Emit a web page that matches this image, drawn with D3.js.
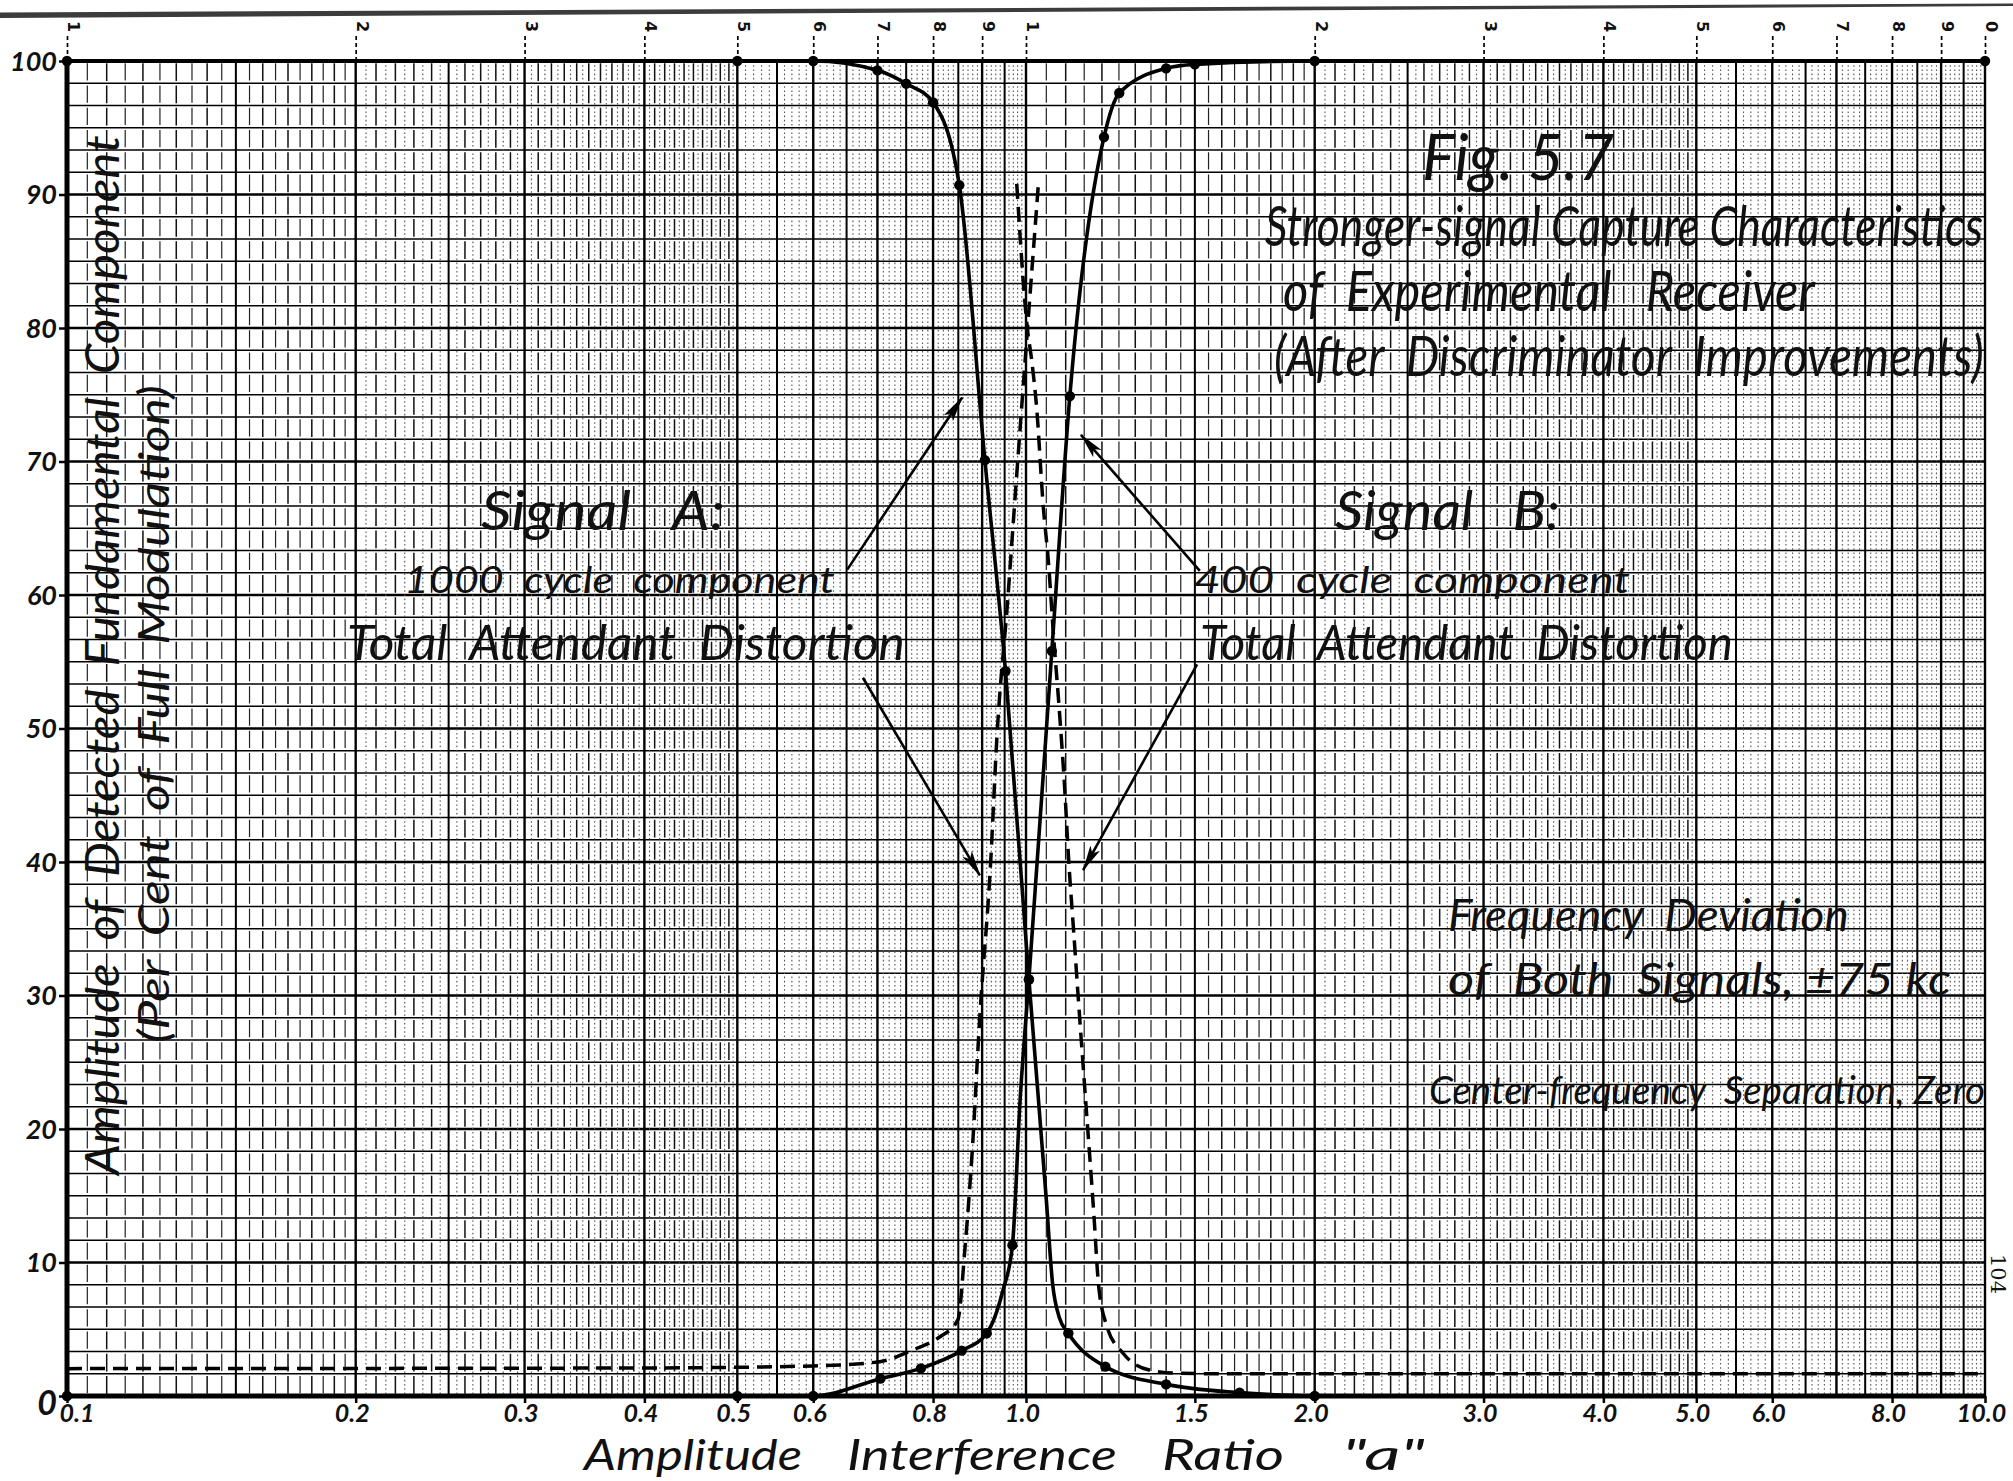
<!DOCTYPE html>
<html>
<head>
<meta charset="utf-8">
<script src="https://cdn.jsdelivr.net/npm/d3@7"></script>
<style>
  html, body { margin: 0; padding: 0; background: #fff; }
  svg { display: block; }
  text { fill: #111; }
</style>
</head>
<body>
<svg id="chart" width="2013" height="1481"></svg>
<script>
// Amplitude interference ratio "a" and percentage readings.
// Signal A, 1000 cycle fundamental (falls as a rises).
const ratioA = [0.1, 0.5, 0.6, 0.7, 0.75, 0.8, 0.852, 0.906, 0.952, 1.007, 1.05, 1.066, 1.083, 1.107, 1.21, 1.40, 1.67, 2.0];
const fundamentalA = [100, 100, 100, 99.3, 98.3, 96.9, 90.7, 70.1, 54.3, 31.2, 14.7, 8.4, 5.9, 4.7, 2.2, 0.87, 0.25, 0];
const measuredA = [1, 1, 1, 1, 1, 1, 1, 1, 1, 1, 0, 0, 0, 1, 1, 1, 1, 1];

// Signal B, 400 cycle fundamental (rises as a rises).
const ratioB = [0.1, 0.5, 0.6, 0.705, 0.777, 0.857, 0.91, 0.946, 0.968, 0.986, 1.007, 1.064, 1.111, 1.206, 1.251, 1.40, 1.50, 2.0, 10.0];
const fundamentalB = [0, 0, 0, 1.3, 2.07, 3.4, 4.7, 7.9, 11.3, 22.2, 31.2, 55.8, 74.9, 94.3, 97.6, 99.45, 99.75, 100, 100];
const measuredB = [1, 1, 1, 1, 1, 1, 1, 0, 1, 0, 1, 1, 1, 1, 1, 1, 1, 1, 1];

// Total attendant distortion of each signal.
const ratioDistA = [0.1, 0.4, 0.6, 0.704, 0.762, 0.812, 0.849, 0.864, 0.879, 0.895, 0.918, 0.933, 0.957, 0.9725, 1.0035, 1.03];
const distortionA = [2.05, 2.1, 2.25, 2.57, 3.45, 4.4, 5.7, 11.2, 18.4, 28.4, 39.6, 49.6, 59.6, 66.6, 79.9, 90.7];
const ratioDistB = [0.978, 1.0035, 1.0137, 1.0257, 1.0424, 1.055, 1.068, 1.084, 1.0965, 1.109, 1.1215, 1.134, 1.156, 1.1775, 1.19, 1.2145, 1.2625, 1.3445, 1.4425, 1.6, 3.0, 10.0];
const distortionB = [90.8, 79.9, 77.6, 74.1, 66.6, 62.6, 57.1, 51.1, 45.9, 39.65, 34.7, 29.7, 21.4, 13.4, 8.4, 5.2, 3.2, 1.95, 1.7, 1.67, 1.67, 1.67];

// Axis ticks.
const xTickValues = [0.1, 0.2, 0.3, 0.4, 0.5, 0.6, 0.8, 1.0, 1.5, 2.0, 3.0, 4.0, 5.0, 6.0, 8.0, 10.0];
const xTickLabels = ["0.1", "0.2", "0.3", "0.4", "0.5", "0.6", "0.8", "1.0", "1.5", "2.0", "3.0", "4.0", "5.0", "6.0", "8.0", "10.0"];
const yTickValues = [0, 10, 20, 30, 40, 50, 60, 70, 80, 90, 100];
const yTickLabels = ["0", "10", "20", "30", "40", "50", "60", "70", "80", "90", "100"];
// Printed cycle numbers of the log paper along the top edge.
const paperValues = [0.1, 0.2, 0.3, 0.4, 0.5, 0.6, 0.7, 0.8, 0.9, 1, 2, 3, 4, 5, 6, 7, 8, 9, 10];
const paperLabels = ["1", "2", "3", "4", "5", "6", "7", "8", "9", "1", "2", "3", "4", "5", "6", "7", "8", "9", "0"];

// Arrow annotations: [from ratio, from %, to ratio, to %].
const arrowFund = [[0.651, 61.9, 0.858, 74.8], [1.518, 61.8, 1.141, 72.0]];
const arrowDist = [[0.676, 53.8, 0.895, 39.0], [1.508, 54.8, 1.147, 39.4]];

const W = 2013, H = 1481;
const svg = d3.select("#chart");
const HAND = "Lato, 'DejaVu Sans', sans-serif";

const x = d3.scaleLog().domain([0.1, 10]).range([67, 1985]);
const y = d3.scaleLinear().domain([0, 100]).range([1396, 61]);
const [plotLeft, plotRight] = x.range();
const [plotBottom, plotTop] = y.range();

svg.append("rect").attr("width", W).attr("height", H).attr("fill", "#fff");

// Edge of the sheet across the top of the page.
svg.append("path")
  .attr("d", `M0,12.5 L${W},3.5 L${W},6 L0,18 Z`)
  .attr("fill", "#3c3c3c");

// ---- log-linear paper ----
const grid = svg.append("g");

// horizontal rules every 1/6 of a 10% band
const hRules = d3.range(0, 61).map(k => k * 10 / 6);
grid.selectAll("line.h").data(hRules).join("line")
  .attr("x1", plotLeft).attr("x2", plotRight)
  .attr("y1", d => y(d)).attr("y2", d => y(d))
  .attr("stroke", "#000")
  .attr("stroke-width", (d, i) => i % 6 === 0 ? 2.7 : 1.7);

// vertical rules of the two log cycles
const vRules = [];
[0.1, 1].forEach((dec, di) => {
  const last = di === 0 ? 199 : 200;
  for (let m = 20; m <= last; m++) {
    let cls = null;
    if (m % 20 === 0) cls = "heavy";
    else if (m < 100) {
      if (m % 2 === 1) cls = m < 40 ? "thin" : "dot";
      else cls = (m === 30 || m === 50) ? "medium" : "light";
    } else if (m % 2 === 0) {
      cls = m % 10 === 0 ? "medium" : "dot";
    }
    if (cls) vRules.push({ v: +(m / 20 * dec).toPrecision(8), cls });
  }
});
const bandStep = Math.abs(y(10 / 6) - y(0));
const ruleStyle = {
  heavy:  { w: 2.4, c: "#000", dash: null },
  medium: { w: 2.0, c: "#000", dash: null },
  light:  { w: 1.5, c: "#111", dash: `${bandStep - 4.5} 4.5` },
  thin:   { w: 1.2, c: "#222", dash: `${bandStep - 5} 5` },
  dot:    { w: 1.1, c: "#555", dash: "1.6 2.6" }
};
grid.selectAll("line.v").data(vRules).join("line")
  .attr("x1", d => x(d.v)).attr("x2", d => x(d.v))
  .attr("y1", plotTop).attr("y2", plotBottom)
  .attr("stroke", d => ruleStyle[d.cls].c)
  .attr("stroke-width", d => ruleStyle[d.cls].w)
  .attr("stroke-dasharray", d => ruleStyle[d.cls].dash)
  .attr("stroke-dashoffset", d => d.cls === "dot" ? 0 : bandStep - 2.25);

// frame
const frame = svg.append("g").attr("stroke", "#000");
frame.append("line").attr("x1", plotLeft).attr("x2", plotLeft).attr("y1", plotTop - 2).attr("y2", plotBottom + 2).attr("stroke-width", 5);
frame.append("line").attr("x1", plotLeft).attr("x2", plotRight).attr("y1", plotBottom).attr("y2", plotBottom).attr("stroke-width", 5);
frame.append("line").attr("x1", plotLeft).attr("x2", plotRight).attr("y1", plotTop).attr("y2", plotTop).attr("stroke-width", 4);

// ---- axes ----
const xAxis = svg.append("g").attr("transform", `translate(0,${plotBottom})`)
  .call(d3.axisBottom(x).tickValues(xTickValues).tickFormat((d, i) => xTickLabels[i]).tickSize(7).tickPadding(1));
xAxis.select(".domain").remove();
xAxis.selectAll(".tick line").attr("stroke", "#000").attr("stroke-width", 2.5);
xAxis.selectAll(".tick text")
  .attr("font-family", HAND).attr("font-style", "italic").attr("font-weight", 700)
  .attr("font-size", 25).attr("fill", "#111")
  .attr("dx", (d, i) => i === 0 ? -8 : -4)
  .attr("text-anchor", (d, i) => i === 0 ? "start" : "middle");

const yAxis = svg.append("g").attr("transform", `translate(${plotLeft},0)`)
  .call(d3.axisLeft(y).tickValues(yTickValues).tickFormat((d, i) => yTickLabels[i]).tickSize(8).tickPadding(2));
yAxis.select(".domain").remove();
yAxis.selectAll(".tick line").attr("stroke", "#000").attr("stroke-width", 2.5);
yAxis.selectAll(".tick text")
  .attr("font-family", HAND).attr("font-style", "italic").attr("font-weight", 700)
  .attr("fill", "#111")
  .attr("font-size", d => d === 0 ? 34 : 27)
  .attr("dy", d => d === 0 ? "0.55em" : "0.35em");

const paperAxis = svg.append("g").attr("transform", `translate(0,${plotTop})`)
  .call(d3.axisTop(x).tickValues(paperValues).tickFormat("").tickSize(27));
paperAxis.select(".domain").remove();
paperAxis.selectAll(".tick line").attr("stroke", "#000").attr("stroke-width", 1.7).attr("stroke-dasharray", "4 3");
svg.append("g").selectAll("text").data(paperValues).join("text")
  .attr("transform", d => `translate(${x(d) + 1},${plotTop - 40}) rotate(90)`)
  .attr("font-family", "'DejaVu Sans', sans-serif").attr("font-weight", 700)
  .attr("font-size", 16)
  .text((d, i) => paperLabels[i]);

// ---- curves ----
const line = d3.line().x(d => x(d[0])).y(d => y(d[1])).curve(d3.curveMonotoneX);
const curves = svg.append("g").attr("fill", "none").attr("stroke", "#000").attr("stroke-linecap", "round");
const zipPts = (xs, ys) => xs.map((v, i) => [v, ys[i]]);

curves.append("path").attr("d", line(zipPts(ratioDistA, distortionA)))
  .attr("stroke-width", 3.5).attr("stroke-dasharray", "15 8").attr("stroke-linecap", "butt");
curves.append("path").attr("d", line(zipPts(ratioDistB, distortionB)))
  .attr("stroke-width", 3.5).attr("stroke-dasharray", "15 8").attr("stroke-linecap", "butt");
curves.append("path").attr("d", line(zipPts(ratioA, fundamentalA))).attr("stroke-width", 3.6);
curves.append("path").attr("d", line(zipPts(ratioB, fundamentalB))).attr("stroke-width", 3.6);

const dots = svg.append("g").attr("fill", "#000");
dots.selectAll("circle.a").data(zipPts(ratioA, fundamentalA).filter((d, i) => measuredA[i])).join("circle")
  .attr("class", "a").attr("cx", d => x(d[0])).attr("cy", d => y(d[1])).attr("r", 5.2);
dots.selectAll("circle.b").data(zipPts(ratioB, fundamentalB).filter((d, i) => measuredB[i])).join("circle")
  .attr("class", "b").attr("cx", d => x(d[0])).attr("cy", d => y(d[1])).attr("r", 5.2);

// ---- arrows ----
const defs = svg.append("defs");
defs.append("marker").attr("id", "head")
  .attr("markerUnits", "userSpaceOnUse")
  .attr("markerWidth", 26).attr("markerHeight", 14)
  .attr("refX", 25).attr("refY", 7).attr("orient", "auto")
  .append("path").attr("d", "M0,1.5 L26,7 L0,12.5 L6,7 Z").attr("fill", "#000");
svg.append("g").selectAll("line").data(arrowFund.concat(arrowDist)).join("line")
  .attr("x1", d => x(d[0])).attr("y1", d => y(d[1]))
  .attr("x2", d => x(d[2])).attr("y2", d => y(d[3]))
  .attr("stroke", "#000").attr("stroke-width", 2.6)
  .attr("marker-end", "url(#head)");

// ---- lettering ----
// Each label is squeezed horizontally to its lettered width.
function fitWidth(sel, rotate) {
  sel.each(function (d) {
    const natural = this.getComputedTextLength();
    const sx = natural > 0 ? d.w / natural : 1;
    d3.select(this).attr("transform",
      `translate(${d.x},${d.y})${rotate ? ` rotate(${rotate})` : ""} scale(${sx.toFixed(4)},1)`);
  });
}

const notes = [
  { t: "Fig. 5.7", x: 1422, y: 180, w: 192, fs: 64 },
  { t: "Stronger-signal Capture Characteristics", x: 1265, y: 246, w: 718, fs: 56 },
  { t: "of  Experimental   Receiver", x: 1283, y: 311, w: 532, fs: 56 },
  { t: "(After  Discriminator  Improvements)", x: 1274, y: 376, w: 710, fs: 56 },
  { t: "Signal   A:", x: 481, y: 530, w: 244, fs: 54 },
  { t: "1000  cycle  component", x: 404, y: 593, w: 431, fs: 37 },
  { t: "Total  Attendant  Distortion", x: 347, y: 660, w: 558, fs: 49 },
  { t: "Signal   B:", x: 1335, y: 530, w: 225, fs: 54 },
  { t: "400  cycle  component", x: 1194, y: 593, w: 436, fs: 37 },
  { t: "Total  Attendant  Distortion", x: 1200, y: 660, w: 533, fs: 49 },
  { t: "Frequency  Deviation", x: 1448, y: 931, w: 401, fs: 44 },
  { t: "of  Both  Signals, ±75 kc", x: 1448, y: 995, w: 503, fs: 44 },
  { t: "Center-frequency  Separation, Zero", x: 1429, y: 1104, w: 556, fs: 38 }
];
svg.append("g").selectAll("text").data(notes).join("text")
  .attr("font-family", HAND).attr("font-style", "italic").attr("font-weight", 400)
  .attr("font-size", d => d.fs)
  .style("white-space", "pre")
  .text(d => d.t)
  .call(fitWidth);

// axis titles
const yTitles = [
  { t: "Amplitude  of  Detected  Fundamental  Component", x: 119, y: 1175, w: 1040, fs: 46 },
  { t: "(Per  Cent  of  Full  Modulation)", x: 169, y: 1043, w: 658, fs: 42 }
];
svg.append("g").selectAll("text").data(yTitles).join("text")
  .attr("font-family", HAND).attr("font-style", "italic").attr("font-weight", 400)
  .attr("font-size", d => d.fs)
  .style("white-space", "pre")
  .text(d => d.t)
  .call(fitWidth, -90);

const xTitle = [
  { t: "Amplitude", x: 584, y: 1470, w: 218 },
  { t: "Interference", x: 847, y: 1470, w: 270 },
  { t: "Ratio", x: 1162, y: 1470, w: 122 },
  { t: "\"a\"", x: 1342, y: 1470, w: 83 }
];
svg.append("g").selectAll("text").data(xTitle).join("text")
  .attr("font-family", HAND).attr("font-style", "italic").attr("font-weight", 400)
  .attr("font-size", 43)
  .text(d => d.t)
  .call(fitWidth);

// page number in the margin
svg.append("text")
  .attr("transform", "translate(1991,1254) rotate(90)")
  .attr("font-family", "'DejaVu Serif', serif").attr("font-size", 21)
  .text("104");
</script>
</body>
</html>
